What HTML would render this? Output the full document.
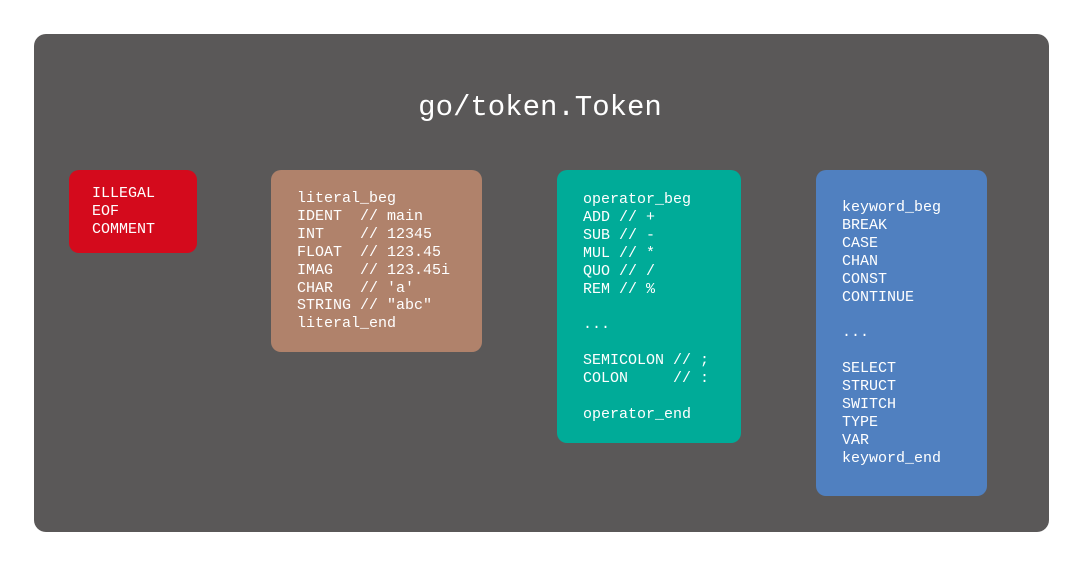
<!DOCTYPE html>
<html><head><style>
body{margin:0;width:1080px;height:564px;background:#fff;position:relative;overflow:hidden;font-family:"Liberation Mono",monospace}
.panel{position:absolute;left:34px;top:34px;width:1015px;height:498px;background:#5a5858;border-radius:12px}
.title{position:absolute;left:0;width:1080px;top:90px;text-align:center;color:#fff;font-size:29px;line-height:36px}
.box{position:absolute;border-radius:10px}
.box pre{position:absolute;margin:0;color:#fff;font-family:"Liberation Mono",monospace;font-size:15px;line-height:17.9px}
</style></head><body>
<div class="panel"></div>
<div class="title">go/token.Token</div>
<div class="box" style="left:69px;top:170px;width:128px;height:83px;background:#d40a1c"><pre style="left:23px;top:15px">ILLEGAL
EOF
COMMENT</pre></div>
<div class="box" style="left:271px;top:170px;width:211px;height:182px;background:#b0826b"><pre style="left:26px;top:20px">literal_beg
IDENT  // main
INT    // 12345
FLOAT  // 123.45
IMAG   // 123.45i
CHAR   // 'a'
STRING // "abc"
literal_end</pre></div>
<div class="box" style="left:557px;top:170px;width:184px;height:273px;background:#00ab98"><pre style="left:26px;top:21px">operator_beg
ADD // +
SUB // -
MUL // *
QUO // /
REM // %

...

SEMICOLON // ;
COLON     // :

operator_end</pre></div>
<div class="box" style="left:816px;top:170px;width:171px;height:326px;background:#5080c0"><pre style="left:26px;top:29px">keyword_beg
BREAK
CASE
CHAN
CONST
CONTINUE

...

SELECT
STRUCT
SWITCH
TYPE
VAR
keyword_end</pre></div>
</body></html>
